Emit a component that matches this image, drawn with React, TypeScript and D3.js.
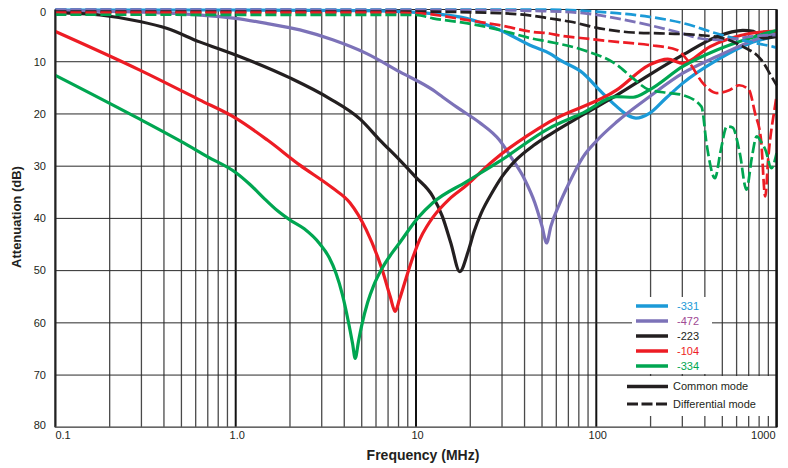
import React from "react";
import * as d3 from "d3";

// chart area (px)
const W = 788;
const H = 468;
const plot = { left: 55.4, right: 776.6, top: 9.5, bottom: 427.3 };

// axes
const dbTicks = [0, 10, 20, 30, 40, 50, 60, 70, 80];
const freqLabelValues = [0.1, 1, 10, 100, 1000];
const freqLabels = ["0.1", "1.0", "10", "100", "1000"];

// legend / series
const partNames = ["-331", "-472", "-223", "-104", "-334"];
const lineColors = ["#1b9ad7", "#7c72b8", "#231f20", "#ed1c24", "#00a651"];
const textColors = ["#1b9ad7", "#a04a94", "#231f20", "#ed1c24", "#00a651"];

// [MHz, dB] — common mode
const cm331: [number, number][] = [
  [0.1, 0.1], [1, 0.1], [5, 0.2], [11.5, 0.7], [19, 1.7], [29, 3.9], [44.6, 7.1],
  [55, 8.4], [63, 9.7], [84.5, 12.2], [104, 15.4], [130, 18.6], [150, 20.3],
  [166, 20.8], [197, 19.9], [243, 17], [302, 14.1], [466, 9.7], [708, 6.5],
  [950, 5.2], [1000, 5.0],
];
const cm472: [number, number][] = [
  [0.1, 0.2], [0.3, 0.5], [0.6, 1.0], [1, 1.7], [1.5, 2.7], [2.27, 3.9],
  [3.45, 5.8], [5.3, 8.4], [8.1, 11.9], [12.4, 15.4], [14.1, 16.8], [17, 18.8],
  [22.4, 21.6], [29, 25], [34, 28.5], [40, 32.5], [45.6, 37], [50, 41.5],
  [53, 44.7], [56, 41.5], [62, 37.5], [70, 33.5], [84.5, 28.2], [100, 25.2],
  [130, 21.5], [197, 16.7], [302, 12.2], [466, 9.0], [708, 6.2], [950, 4.6],
  [1000, 4.4],
];
const cm223: [number, number][] = [
  [0.1, 0.6], [0.177, 1.05], [0.294, 2.3], [0.414, 3.6], [0.63, 6.2], [1, 8.7],
  [2, 13.1], [3.3, 17], [4.9, 21], [6.3, 25], [8.1, 28.8], [9.9, 32],
  [12.4, 35.8], [14, 39.6], [15.6, 44.7], [17.5, 50.2], [19.4, 46.5], [21, 42.5],
  [23, 39], [26.5, 35], [30, 32], [35.9, 28.8], [45, 26], [55, 24], [84, 20.2],
  [130, 16.4], [197, 12.5], [302, 8.7], [466, 5.2], [650, 4.0], [743, 4.2],
  [850, 5.5], [950, 5.3], [1000, 5.1],
];
const cm104: [number, number][] = [
  [0.1, 4.2], [0.294, 11.6], [0.63, 17.3], [1, 20.8], [1.5, 25], [2.27, 29.8],
  [3.45, 34.2], [4.3, 37], [5.3, 42.2], [6.5, 49.9], [7.2, 55], [7.66, 57.8],
  [8.1, 55.5], [8.8, 51.5], [9.6, 47.5], [10.5, 44], [11.5, 41.5], [12.4, 39.8],
  [15.3, 36.3], [19, 33.7], [26.5, 29.1], [55, 21.5], [130, 15.4], [197, 10.6],
  [249, 9.5], [302, 10.3], [428, 7.1], [708, 4.6], [950, 4.2], [1000, 4.2],
];
const cm334: [number, number][] = [
  [0.1, 12.6], [0.294, 21.0], [0.5, 25.3], [0.7, 28.2], [1, 31.2], [1.2, 33.5],
  [1.45, 36.3], [1.7, 38.5], [2, 40.3], [2.4, 42], [2.93, 44.9], [3.3, 47.5],
  [3.6, 50.5], [3.9, 54.5], [4.2, 59.5], [4.45, 64], [4.6, 66.8], [4.8, 63.5],
  [5.0, 60.5], [5.4, 56], [5.8, 53], [6.5, 49.5], [7.3, 46.8], [8.1, 44.7],
  [10.3, 39.8], [12.4, 37], [19, 33], [29, 29.1], [55, 22.7], [84.5, 19.8],
  [130, 16.7], [160, 16.8], [197, 15.4], [302, 10.9], [466, 7.75], [708, 5.5],
  [950, 4.2], [1000, 4.0],
];

// [MHz, dB] — differential mode
const dm331: [number, number][] = [
  [0.1, 0], [50, 0], [100, 0.4], [130, 0.7], [197, 1.4], [302, 2.6], [466, 4.6],
  [708, 6.2], [950, 7.1], [1000, 7.3],
];
const dm472: [number, number][] = [
  [0.1, 0], [20, 0.1], [50, 0.3], [84.5, 0.7], [130, 1.7], [197, 3.0], [302, 4.6],
  [372, 5.5], [466, 5.8], [570, 5.7], [708, 5.2], [950, 4.9], [1000, 4.9],
];
const dm223: [number, number][] = [
  [0.1, 0.4], [10, 0.4], [29, 0.7], [44.6, 1.2], [55, 1.7], [71, 2.3], [104, 3.6],
  [160, 4.4], [243, 4.6], [372, 4.9], [505, 5.5], [650, 7.1], [825, 9.7],
  [950, 13.2], [1000, 14.5],
];
const dm104: [number, number][] = [
  [0.1, 0.6], [5, 0.6], [10, 0.7], [19, 2.0], [29, 3.0], [44.6, 4.3], [55, 4.6],
  [63, 5.0], [84.5, 5.5], [130, 6.2], [197, 6.8], [280, 7.75], [330, 10.3],
  [390, 14.1], [466, 16], [550, 15.4], [620, 14.5], [700, 15.3], [760, 19.9],
  [820, 25], [865, 35.8], [900, 28.2], [985, 18], [1000, 16.5],
];
const dm334: [number, number][] = [
  [0.1, 1.0], [10, 1.05], [12.4, 1.7], [19, 2.6], [29, 3.9], [44.6, 5.6],
  [55, 6.2], [84.5, 7.75], [130, 10.6], [160, 13.2], [197, 15.4], [256, 16],
  [303, 16.4], [383, 18.6], [410, 26], [455, 32.3], [490, 27], [530, 22.4],
  [570, 22.6], [625, 27.5], [680, 34.5], [730, 28.2], [775, 24.3], [820, 25.3],
  [870, 27], [935, 30.4], [1000, 27.5],
];

const commonSeries = [cm331, cm472, cm223, cm104, cm334];
const diffSeries = [dm331, dm472, dm223, dm104, dm334];

const font = "'Liberation Sans', Arial, Helvetica, sans-serif";

export default function App() {
  const x = d3.scaleLog().domain([0.1, 1000]).range([plot.left, plot.right]);
  const y = d3.scaleLinear().domain([0, 80]).range([plot.top, plot.bottom]);

  const line = d3
    .line<[number, number]>()
    .x((d) => x(d[0]))
    .y((d) => y(d[1]))
    .curve(d3.curveMonotoneX);

  const gridX = x.ticks();
  const isDecade = (v: number) => Math.abs(Math.log10(v) - Math.round(Math.log10(v))) < 1e-6;

  return (
    <div style={{ position: "fixed", left: 0, top: 0 }}>
      <svg width={W} height={H} style={{ display: "block", background: "#fff" }} fontFamily={font}>
        {/* vertical grid */}
        {gridX.map((v, i) => (
          <line
            key={"gx" + i}
            x1={x(v)}
            x2={x(v)}
            y1={plot.top}
            y2={plot.bottom}
            stroke={isDecade(v) ? "#111" : "#4a4a4a"}
            strokeWidth={isDecade(v) ? 2 : 1.3}
          />
        ))}
        {/* horizontal grid */}
        {dbTicks.map((v) => (
          <line
            key={"gy" + v}
            x1={plot.left}
            x2={plot.right}
            y1={y(v)}
            y2={y(v)}
            stroke="#2a2a2a"
            strokeWidth={1}
          />
        ))}

        {/* curves */}
        {commonSeries.map((s, i) => (
          <path key={"cm" + i} d={line(s) || ""} fill="none" stroke={lineColors[i]} strokeWidth={3.2} strokeLinejoin="round" />
        ))}
        {diffSeries.map((s, i) => (
          <path
            key={"dm" + i}
            d={line(s) || ""}
            fill="none"
            stroke={lineColors[i]}
            strokeWidth={2.7}
            strokeDasharray="11 4"
          />
        ))}

        {/* frame */}
        <line x1={plot.left} x2={plot.left} y1={plot.top} y2={plot.bottom} stroke="#222" strokeWidth={1.5} />
        <line x1={plot.left} x2={plot.right} y1={plot.bottom} y2={plot.bottom} stroke="#666" strokeWidth={1.6} />
        <line x1={plot.right} x2={plot.right} y1={plot.top} y2={plot.bottom} stroke="#111" strokeWidth={2.2} />

        {/* legend */}
        <rect x={632} y={297} width={80} height={77} fill="#fff" />
        <rect x={616} y={376} width={156} height={40} fill="#fff" />
        {partNames.map((n, i) => {
          const ly = 306 + i * 15;
          return (
            <g key={"lg" + i}>
              <line x1={636} x2={668} y1={ly} y2={ly} stroke={lineColors[i]} strokeWidth={3.5} />
              <text x={677} y={ly} dy="0.35em" fontSize={11} fill={textColors[i]}>
                {n}
              </text>
            </g>
          );
        })}
        <line x1={627} x2={668} y1={386.5} y2={386.5} stroke="#231f20" strokeWidth={3.5} />
        <text x={673} y={386.5} dy="0.35em" fontSize={11} fill="#231f20">
          Common mode
        </text>
        <line x1={627} x2={668} y1={404} y2={404} stroke="#231f20" strokeWidth={3} strokeDasharray="11 3.5" />
        <text x={673} y={404} dy="0.35em" fontSize={11} fill="#231f20">
          Differential mode
        </text>

        {/* y tick labels */}
        {dbTicks.map((v) => (
          <text
            key={"ty" + v}
            x={46}
            y={y(v) + (v === 0 ? 3 : v === 80 ? -2 : 0)}
            dy="0.35em"
            textAnchor="end"
            fontSize={11}
            fill="#231f20"
          >
            {v}
          </text>
        ))}
        {/* x tick labels */}
        {freqLabelValues.map((v, i) => (
          <text
            key={"tx" + i}
            x={i === 0 ? x(v) : i === freqLabelValues.length - 1 ? x(v) - 1 : x(v) + 1.5}
            y={439}
            textAnchor={i === 0 ? "start" : i === freqLabelValues.length - 1 ? "end" : "middle"}
            fontSize={11}
            fill="#231f20"
          >
            {freqLabels[i]}
          </text>
        ))}

        {/* axis titles */}
        <text x={423} y={460} textAnchor="middle" fontSize={14} fontWeight="bold" fill="#231f20">
          Frequency (MHz)
        </text>
        <text
          transform={`translate(21,217) rotate(-90)`}
          textAnchor="middle"
          fontSize={13}
          fontWeight="bold"
          fill="#231f20"
        >
          Attenuation (dB)
        </text>
      </svg>
    </div>
  );
}
